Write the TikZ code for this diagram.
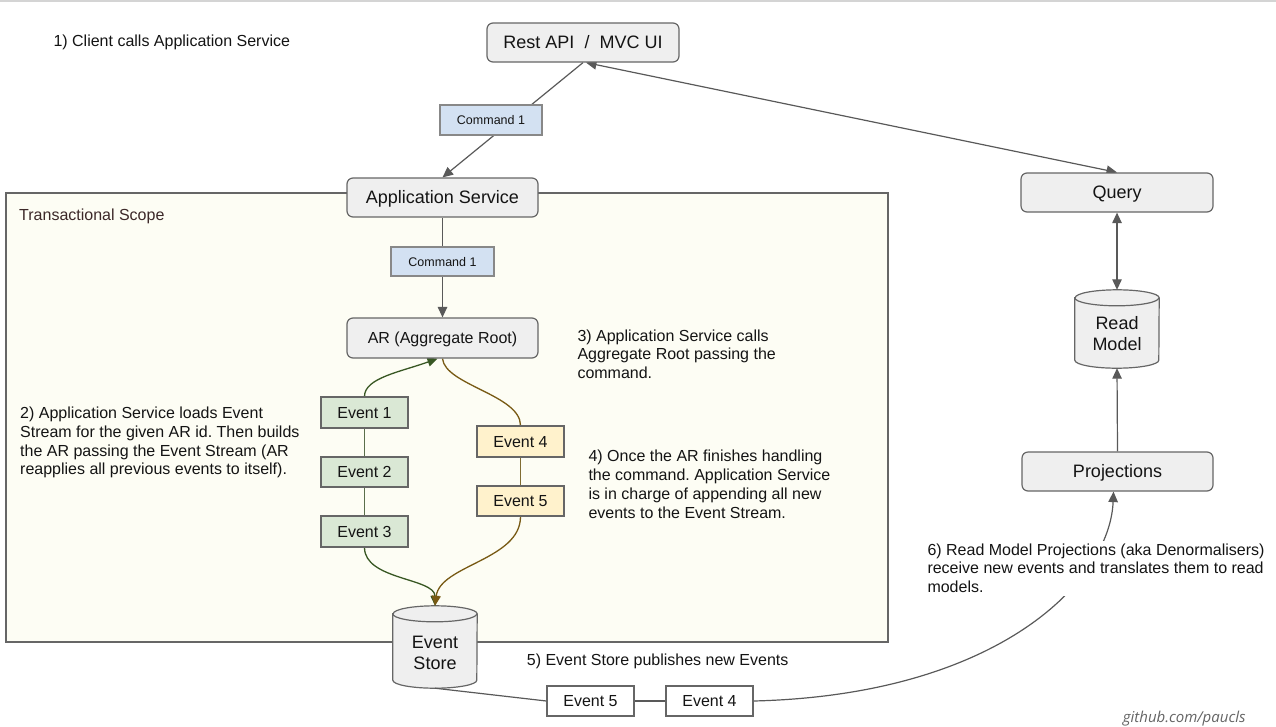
\documentclass[tikz,border=0pt]{standalone}
\usepackage{fontspec}
\setmainfont{Liberation Sans}
\newfontfamily\ghfont{Open Sans}
\usetikzlibrary{arrows.meta}
\pgfdeclarelayer{bg}
\pgfdeclarelayer{edges}
\pgfsetlayers{bg,edges,main}
\definecolor{boxfill}{RGB}{239,239,239}
\definecolor{boxdraw}{RGB}{102,102,102}
\definecolor{cmdfill}{RGB}{211,225,242}
\definecolor{cmddraw}{RGB}{136,136,136}
\definecolor{greenfill}{RGB}{218,232,213}
\definecolor{yellowfill}{RGB}{255,242,204}
\definecolor{darkgreen}{RGB}{56,87,35}
\definecolor{greenline}{RGB}{90,110,75}
\definecolor{darkbrown}{RGB}{120,90,20}
\definecolor{brownline}{RGB}{128,108,50}
\definecolor{scopefill}{RGB}{253,253,244}
\definecolor{arrowgray}{RGB}{89,89,89}
\definecolor{txt}{RGB}{20,20,20}
\definecolor{scopetxt}{RGB}{60,40,40}
\definecolor{ghgray}{RGB}{100,100,100}
\definecolor{topline}{RGB}{212,212,212}
\newcommand\myfs[2]{\fontsize{#1}{#2}\selectfont}
\newcommand\mycyl[2]{%
  \path[draw=boxdraw, fill=boxfill, line width=1.2pt]
    ([yshift=#2-8pt]#1.north west) -- ([yshift=8pt]#1.south west)
    arc[start angle=180, end angle=360, x radius=42pt, y radius=8pt]
    -- ([yshift=#2-8pt]#1.north east)
    arc[start angle=0, end angle=180, x radius=42pt, y radius=8pt] -- cycle;
  \draw[draw=boxdraw, line width=1.2pt] ([yshift=#2-8pt]#1.north west)
    arc[start angle=180, end angle=360, x radius=42pt, y radius=8pt];
}
\tikzset{
  rbox/.style={draw=boxdraw, fill=boxfill, rounded corners=6pt, line width=1.2pt,
    font=\myfs{18}{20}, text=txt, inner sep=0pt, text height=12.9pt, text depth=0pt},
  cmdbox/.style={draw=cmddraw, fill=cmdfill, line width=1.2pt, font=\myfs{12.5}{14},
    text=txt, inner sep=0pt, minimum width=102pt, minimum height=30pt,
    text height=9pt, text depth=0pt},
  evbox/.style={draw=boxdraw, line width=1.2pt, font=\myfs{16}{18}, text=txt,
    inner sep=0pt, minimum width=87pt, minimum height=31pt, text height=11.5pt, text depth=0pt},
  evg/.style={evbox, fill=greenfill},
  evy/.style={evbox, fill=yellowfill},
  evw/.style={evbox, fill=white},
  cylnode/.style={inner sep=0pt, minimum width=84pt, align=center,
    font=\myfs{18}{20.5}, text=txt},
  note/.style={inner sep=0pt, anchor=north west, align=left, font=\myfs{16}{18.8}, text=txt},
  arr/.style={draw=arrowgray, line width=1.2pt, -{Triangle[length=10.5pt,width=9.5pt]}},
  darr/.style={draw=arrowgray, line width=1.2pt,
    {Triangle[length=10.5pt,width=9.5pt]}-{Triangle[length=10.5pt,width=9.5pt]}},
  garr/.style={draw=darkgreen, line width=1.3pt, -{Triangle[length=10pt,width=9pt]}},
  barr/.style={draw=darkbrown, line width=1.3pt, -{Triangle[length=10pt,width=9pt]}},
  bline/.style={draw=darkbrown, line width=1.3pt},
}
\begin{document}
\frenchspacing
\begin{tikzpicture}[x=1pt,y=-1pt]
\useasboundingbox (0,0) rectangle (1276,726);

% boxes
\node[rbox, minimum width=192pt, minimum height=39pt] (rest) at (583,42.5) {Rest API\ \ /\ \ MVC UI};
\node[rbox, minimum width=191pt, minimum height=39pt] (app) at (442.5,197.5) {Application Service};
\node[cmdbox] (cmd1) at (491,120) {Command 1};
\node[cmdbox, minimum width=103pt, minimum height=29pt] (cmd2) at (442.5,261.5) {Command 1};
\node[rbox, minimum width=191pt, minimum height=40pt, font=\myfs{16}{18}, text height=11.5pt] (ar) at (442.5,338) {AR (Aggregate Root)};
\node[evg] (e1) at (364.5,412.5) {Event 1};
\node[evg, minimum height=30pt] (e2) at (364.5,472) {Event 2};
\node[evg] (e3) at (364.5,531.5) {Event 3};
\node[evy] (e4) at (520.5,441.5) {Event 4};
\node[evy, minimum height=30pt] (e5) at (520.5,501) {Event 5};
\node[cylnode, minimum height=70pt] (es) at (435,653) {Event\\Store};
\node[evw, minimum height=30pt] (p5) at (590.5,701) {Event 5};
\node[evw, minimum height=30pt] (p4) at (709.5,701) {Event 4};
\node[rbox, minimum width=192pt, minimum height=39pt] (query) at (1117,192.5) {Query};
\node[cylnode, minimum height=69pt] (rm) at (1117,333.5) {Read\\Model};
\node[rbox, minimum width=191pt, minimum height=39pt] (proj) at (1117.5,471.5) {Projections};

% texts
\node[note, anchor=base west] (n1) at (53.3,46) {1) Client calls Application Service};
\node[note] (n2) at (20,406.6) {2) Application Service loads Event\\Stream for the given AR id. Then builds\\the AR passing the Event Stream (AR\\reapplies all previous events to itself).};
\node[note] (n3) at (577.3,329.3) {3) Application Service calls\\Aggregate Root passing the\\command.};
\node[note] (n4) at (588.3,450) {4) Once the AR finishes handling\\the command. Application Service\\is in charge of appending all new\\events to the Event Stream.};
\node[note, anchor=base west] (n5) at (526.7,665) {5) Event Store publishes new Events};
\node[note, fill=white, inner sep=3pt] (n6) at (924.3,540.3) {6) Read Model Projections (aka Denormalisers)\\receive new events and translates them to read\\models.};
\node[note, anchor=base west, text=scopetxt] (ts) at (19,220.7) {Transactional Scope};
\node[anchor=base west, inner sep=0pt, font=\ghfont\itshape\myfs{15}{17}, text=ghgray] (gh) at (1122.7,722) {github.com/paucls};

\begin{pgfonlayer}{bg}
  \draw[topline, line width=2pt] (0,1) -- (1276,1);
  \draw[draw=boxdraw, fill=scopefill, line width=1.3pt] (6,193) rectangle (888,642);
\end{pgfonlayer}

\begin{pgfonlayer}{edges}
  \mycyl{es}{12pt}
  \mycyl{rm}{9pt}
  \draw[arr] (rest.south) -- (app.north);
  \draw[darr] ([xshift=3pt]rest.south) -- (query.north);
  \draw[arr] (app.south) -- (ar.north);
  \draw[garr] (e1.north) .. controls (364.5,378) and (400,372) .. ([xshift=-5pt]ar.south);
  \draw[bline] (ar.south) .. controls (445,385) and (520.5,395) .. (e4.north);
  \draw[draw=greenline, line width=1.3pt] (e1.south) -- (e2.north) (e2.south) -- (e3.north);
  \draw[draw=brownline, line width=1.3pt] (e4.south) -- (e5.north);
  \draw[garr] (e3.south) .. controls (364.5,580) and (435,578) .. ([yshift=12pt]es.north);
  \draw[barr] (e5.south) .. controls (520.5,560) and (440,565) .. ([yshift=12pt]es.north);
  \draw[draw=arrowgray, line width=1.2pt] (es.south) -- (p5.west);
  \draw[draw=arrowgray, line width=1.2pt] (p5.east) -- (p4.west);
  \draw[arr] (p4.east) .. controls (1000,695) and (1110,580) .. ([xshift=-4pt]proj.south);
  \draw[darr] (query.south) -- ([yshift=9pt]rm.north);
  \draw[arr] (proj.north) -- (rm.south);
\end{pgfonlayer}
\end{tikzpicture}
\end{document}
